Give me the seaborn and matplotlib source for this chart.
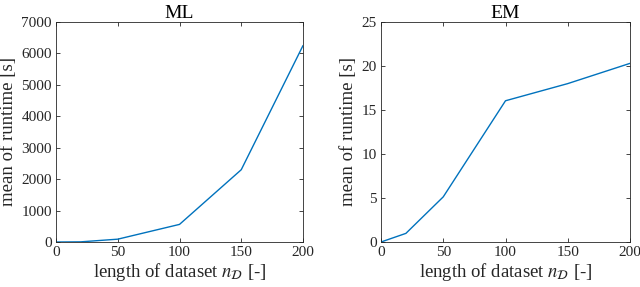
import numpy as np
import pandas as pd
import matplotlib
matplotlib.use("Agg")
import matplotlib.pyplot as plt
import seaborn as sns

# dataset lengths and mean runtimes
n_data = [0, 20, 50, 100, 150, 200]
ml_runtime = [0, 5, 90, 560, 2300, 6250]
em_runtime = [0, 0.98, 5.13, 16.05, 18.0, 20.3]

sns.set_theme(style="ticks")
plt.rcParams['font.family'] = ['Liberation Serif', 'DejaVu Serif']
plt.rcParams['mathtext.fontset'] = 'stix'

line_color = "#0072BD"
axis_color = "#262626"

df = pd.DataFrame({"n": n_data, "ML": ml_runtime, "EM": em_runtime})

fig = plt.figure(figsize=(6.4, 2.87), dpi=100)
W, H = 640, 287
# axes boxes in pixels: left, right, top, bottom
boxes = [(56, 303, 22, 242), (381, 630, 22, 242)]
axes = [fig.add_axes([l / W, (H - b) / H, (r - l) / W, (b - t) / H]) for l, r, t, b in boxes]

panels = [("ML", 7000, 1000), ("EM", 25, 5)]
for ax, (name, ymax, ystep) in zip(axes, panels):
    sns.lineplot(data=df, x="n", y=name, ax=ax, color=line_color, linewidth=1.0)
    ax.set_xlim(0, 200)
    ax.set_ylim(0, ymax)
    ax.set_xticks(np.arange(0, 201, 50))
    ax.set_yticks(np.arange(0, ymax + 1, ystep))
    ax.set_title(name, fontsize=14, color="black", pad=3)
    ax.set_xlabel(r"length of dataset $n_{\mathcal{D}}$ [-]", fontsize=13.5, labelpad=1)
    ax.set_ylabel("mean of runtime [s]", fontsize=13.5, labelpad=3)
    ax.tick_params(direction="in", top=True, right=True, length=3, width=0.6,
                   labelsize=11, colors=axis_color, labelcolor=axis_color, pad=3)
    for s in ax.spines.values():
        s.set_visible(True)
        s.set_color(axis_color)
        s.set_linewidth(0.6)

fig.savefig("out.png", dpi=100)
